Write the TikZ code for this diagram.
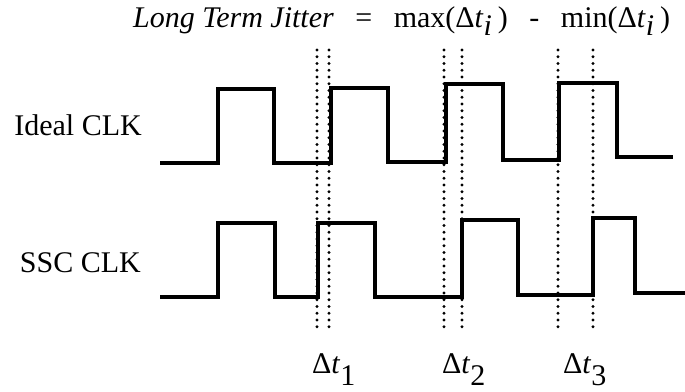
\documentclass[tikz,border=0pt]{standalone}
\usepackage{fontspec}
\setmainfont{Liberation Serif}
\usepackage{tikz}
\usetikzlibrary{positioning, calc}

\tikzset{
  wave/.style={line width=3.3pt, line join=miter},
  jitterline/.style={line width=3.2pt, line cap=round, dash pattern=on 0pt off 6.75pt},
  label/.style={inner sep=0pt, font=\fontsize{30}{36}\selectfont}
}
\newcommand{\lowsub}[2]{\raisebox{-#1}{#2}}
\newcommand{\gap}{\hspace{21.5pt}}

\begin{document}
\begin{tikzpicture}[x=1pt, y=-1pt]
\useasboundingbox (0,0) rectangle (685,391);

% Title: jitter definition
\node[label, anchor=base west] (title) at (133,27)
   {\textit{Long Term Jitter}\gap=\gap max(Δ\textit{t}\lowsub{8pt}{\textit{i}}\hspace{6pt})\gap-\gap min(Δ\textit{t}\lowsub{8pt}{\textit{i}}\hspace{6pt})};

% Clock names
\node[label, anchor=base east] (ideal) at (142,135) {Ideal CLK};
\node[label, anchor=base east] (ssc) at (141,272) {SSC CLK};

% Ideal clock
\draw[wave] (160,163) -- (218,163) -- (218,89) -- (274,89) -- (274,163) -- (331,163)
   -- (331,88) -- (388,88) -- (388,162) -- (446,162) -- (446,84) -- (503,84)
   -- (503,160) -- (559,160) -- (559,83) -- (617,83) -- (617,157) -- (673,157);

% SSC clock
\draw[wave] (160,297) -- (218,297) -- (218,223) -- (275,223) -- (275,297) -- (318,297)
   -- (318,223) -- (375,223) -- (375,297) -- (462,297) -- (462,220) -- (518,220)
   -- (518,295) -- (593,295) -- (593,218) -- (635,218) -- (635,293) -- (685,293);

% Edge markers
\foreach \x in {317,329,444,462,558,593}
  \draw[jitterline] (\x,50) -- (\x,333);

% Delta labels
\node[label, anchor=base west] (dt1) at (312,373) {Δ\textit{t}\lowsub{12pt}{1}};
\node[label, anchor=base west] (dt2) at (442,373) {Δ\textit{t}\lowsub{12pt}{2}};
\node[label, anchor=base west] (dt3) at (563,373) {Δ\textit{t}\lowsub{12pt}{3}};
\end{tikzpicture}
\end{document}
